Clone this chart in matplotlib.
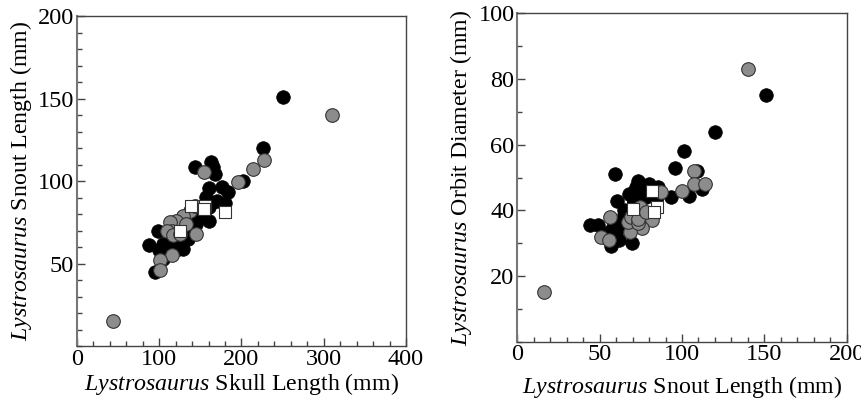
import matplotlib
matplotlib.use("Agg")
import matplotlib.pyplot as plt

plt.rcParams['font.family'] = 'Liberation Serif'
plt.rcParams['mathtext.fontset'] = 'custom'
plt.rcParams['mathtext.rm'] = 'Liberation Serif'
plt.rcParams['mathtext.it'] = 'Liberation Serif:italic'

#%% Data - left panel (skull length vs snout length)
skull_black = [250, 226, 202, 143, 163.5, 165.5, 167.5, 161, 176, 184, 180, 163.5, 157, 161, 151, 155,
               98.5, 88, 105, 115, 129, 121, 103, 94.5, 108, 137, 144,
               120, 130, 140, 150, 160, 170, 110, 125, 135, 145, 100, 105, 112]
snout_black = [151, 120, 100, 108.5, 111.5, 108.5, 104.5, 95.5, 96.5, 93.5, 86.5, 86.5, 90.5, 76, 78, 81,
               70, 61, 62, 65, 59, 58, 56, 45, 60, 72, 76,
               68, 72, 78, 82, 84, 88, 62, 62, 65, 74, 58, 53, 57]
skull_gray = [310, 44, 228, 214, 196, 155, 137, 143, 129, 121, 113, 115, 110, 117, 125, 145, 115, 100.5, 100.5, 133]
snout_gray = [140, 15, 113, 107, 99.5, 105.5, 82, 85, 79, 76, 75, 70, 70, 67, 68, 68, 55, 52, 46, 74]
skull_white = [125, 139, 155.5, 154, 180.5]
snout_white = [70, 85, 85, 83, 81]

#%% Data - right panel (snout length vs orbit diameter)
snout2_black = [151, 120, 101, 96, 109, 59.5, 60.5, 73.5, 77.5, 85.5, 71, 70.5, 64.5, 93.5, 104, 112,
                44, 49, 55.5, 58, 59.5, 55.5, 62, 69.5, 61,
                65, 68, 75, 78, 80, 72, 66, 63, 57, 60, 85]
orbit_black = [75, 64, 58, 53, 52, 51, 43, 49, 47.5, 47, 43, 41.5, 38.5, 44, 44.5, 46.5,
               35.5, 35.5, 33.5, 35, 32, 31, 31, 30, 36,
               40, 45, 45, 44, 48, 47, 38, 35, 29, 34, 44]
snout2_gray = [140, 16, 107, 107, 114, 100, 87.5, 74.5, 77.5, 81.5, 75.5, 68.5, 67.5, 69, 73.5, 51, 55.5,
               73.5, 78, 56]
orbit_gray = [83, 15, 52, 48, 48, 46, 45.5, 41, 38.5, 37, 34.5, 33.5, 36.5, 38, 36, 32, 31,
              37.5, 39.5, 38]
snout2_white = [70.5, 81.5, 85, 83]
orbit_white = [40.5, 46, 41, 39.5]

gray = '#8c8c8c'
edge = '#333333'

fig = plt.figure(figsize=(8.61, 3.99), dpi=100)
ax1 = fig.add_axes([0.0894, 0.1328, 0.3821, 0.827])
ax2 = fig.add_axes([0.6008, 0.1436, 0.3826, 0.823])

def draw(ax, xb, yb, xg, yg, xw, yw):
    ax.scatter(xb, yb, s=96, c='black', edgecolors='black', linewidths=0.5, zorder=2)
    ax.scatter(xg, yg, s=96, c=gray, edgecolors=edge, linewidths=0.8, zorder=3)
    ax.scatter(xw, yw, s=64, marker='s', c='white', edgecolors=edge, linewidths=0.8, zorder=4)
    for side in ['top', 'right', 'bottom']:
        ax.spines[side].set_color('#444444')
        ax.spines[side].set_linewidth(1.0)
    ax.spines['left'].set_color('#777777')
    ax.spines['left'].set_linewidth(1.5)
    ax.tick_params(which='both', direction='in', top=False, right=False, labelsize=17.5, color='#444444', pad=2)
    ax.tick_params(which='major', length=6, width=1)
    ax.tick_params(which='minor', length=3.5, width=1)

draw(ax1, skull_black, snout_black, skull_gray, snout_gray, skull_white, snout_white)
ax1.set_xlim(0, 400)
ax1.set_ylim(0, 200)
ax1.set_xticks([0, 100, 200, 300, 400])
ax1.set_xticks(range(0, 401, 20), minor=True)
ax1.set_yticks([50, 100, 150, 200])
ax1.set_yticks(range(0, 201, 10), minor=True)
ax1.set_xlabel(r'$\it{Lystrosaurus}$ Skull Length (mm)', fontsize=17.2, labelpad=1)
ax1.set_ylabel(r'$\it{Lystrosaurus}$ Snout Length (mm)', fontsize=17.2, labelpad=3)

draw(ax2, snout2_black, orbit_black, snout2_gray, orbit_gray, snout2_white, orbit_white)
ax2.set_xlim(0, 200)
ax2.set_ylim(0, 100)
ax2.set_xticks([0, 50, 100, 150, 200])
ax2.set_xticks(range(0, 201, 10), minor=True)
ax2.set_yticks([20, 40, 60, 80, 100])
ax2.set_yticks(range(0, 101, 10), minor=True)
ax2.set_xlabel(r'$\it{Lystrosaurus}$ Snout Length (mm)', fontsize=17.2, labelpad=6)
ax2.set_ylabel(r'$\it{Lystrosaurus}$ Orbit Diameter (mm)', fontsize=17.2, labelpad=3)

fig.savefig('out.png', dpi=100)
